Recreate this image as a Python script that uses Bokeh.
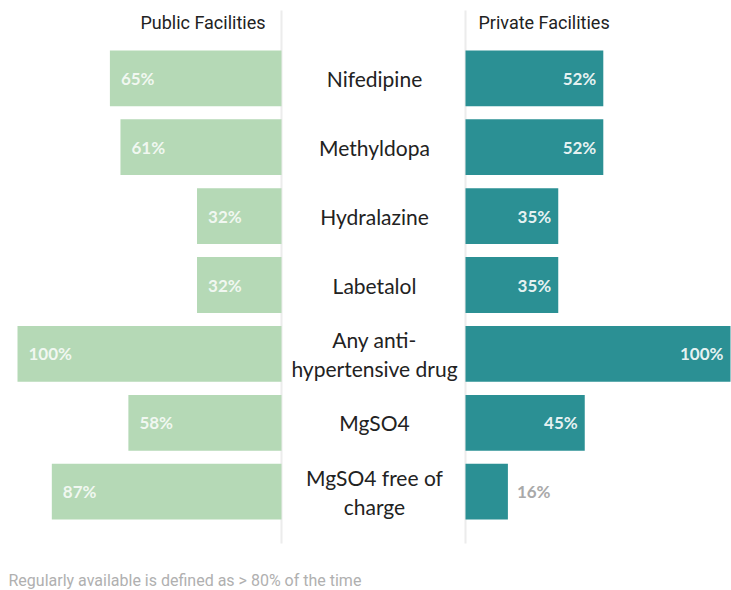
from bokeh.plotting import figure
from bokeh.models import Range1d, ColumnDataSource, Label
from bokeh.core.properties import value
from bokeh.embed import file_html
from bokeh.resources import INLINE

# ---- data ----
categories = ["Nifedipine", "Methyldopa", "Hydralazine", "Labetalol",
              "Any anti-\nhypertensive drug", "MgSO4", "MgSO4 free of\ncharge"]
public_pct = [65, 61, 32, 32, 100, 58, 87]
private_pct = [52, 52, 35, 35, 100, 45, 16]
panel_titles = ["Public Facilities", "Private Facilities"]
footnote = "Regularly available is defined as > 80% of the time"

# ---- style ----
W, H = 731, 590
GREEN = "#b5d9b6"
TEAL = "#2b9094"
ROW = 68.9          # px per row
FIRST = 77.8        # px centre of first row
LEFT0, LEFT_K = 281, 2.64    # px of 0% and px per % (left panel, leftwards)
RIGHT0, RIGHT_K = 465, 2.65  # px of 0% and px per % (right panel)
CENTER_X = 374

y_bot = (H - FIRST) / ROW
y_top = -FIRST / ROW

p = figure(width=W, height=H, output_backend="svg", toolbar_location=None,
           x_range=Range1d(0, W), y_range=Range1d(y_bot, y_top),
           min_border=0, min_border_left=0, min_border_right=0,
           min_border_top=0, min_border_bottom=0)
p.axis.visible = False
p.grid.visible = False
p.outline_line_color = None
p.background_fill_color = "white"
p.border_fill_color = "white"

# extra ranges: left panel grows leftwards from LEFT0, right panel rightwards from RIGHT0
ls = LEFT0 / LEFT_K
p.extra_x_ranges = {
    "left": Range1d(ls, ls - W / LEFT_K),
    "right": Range1d(-RIGHT0 / RIGHT_K, -RIGHT0 / RIGHT_K + W / RIGHT_K),
}

idx = list(range(len(categories)))

# vertical separators
sep_top = y_top + 10 / ROW
sep_bot = y_top + 543 / ROW
p.segment(x0=[0], y0=[sep_top], x1=[0], y1=[sep_bot], x_range_name="left",
          line_color="#ececec", line_width=2)
p.segment(x0=[0], y0=[sep_top], x1=[0], y1=[sep_bot], x_range_name="right",
          line_color="#ececec", line_width=2)

# bars
p.hbar(y=idx, left=0, right=public_pct, height=0.81, x_range_name="left",
       fill_color=GREEN, line_color=None)
p.hbar(y=idx, left=0, right=private_pct, height=0.81, x_range_name="right",
       fill_color=TEAL, line_color=None)

# value labels
pub_src = ColumnDataSource(dict(x=public_pct, y=idx,
                                t=[f"{v}%" for v in public_pct]))
p.text(x="x", y="y", text="t", source=pub_src, x_range_name="left",
       x_offset=11, text_align="left", text_baseline="middle",
       text_font=value("Lato"), text_font_size="17px", text_font_style="bold",
       text_color="white", text_alpha=0.82)

inside = [v >= 20 for v in private_pct]
priv_src = ColumnDataSource(dict(
    x=private_pct, y=idx, t=[f"{v}%" for v in private_pct],
    off=[-7 if ins else 9 for ins in inside],
    al=["right" if ins else "left" for ins in inside],
    col=["white" if ins else "#a9a9a9" for ins in inside],
    a=[0.9 if ins else 1.0 for ins in inside],
))
p.text(x="x", y="y", text="t", source=priv_src, x_range_name="right",
       x_offset="off", text_align="al", text_baseline="middle",
       text_font=value("Lato"), text_font_size="17px", text_font_style="bold",
       text_color="col", text_alpha="a")

# category labels
p.text(x=[CENTER_X] * len(idx), y=idx, text=categories,
       text_align="center", text_baseline="middle",
       text_font=value("Lato"), text_font_size="21px",
       text_color="#222222", text_line_height=1.15)

# panel titles
p.add_layout(Label(x=265, y=H - 22, x_units="screen", y_units="screen",
                   text=panel_titles[0], text_align="right", text_baseline="middle",
                   text_font="Roboto", text_font_size="18px", text_color="#222222"))
p.add_layout(Label(x=478, y=H - 22, x_units="screen", y_units="screen",
                   text=panel_titles[1], text_align="left", text_baseline="middle",
                   text_font="Roboto", text_font_size="18px", text_color="#222222"))

# footnote
p.add_layout(Label(x=8, y=H - 580, x_units="screen", y_units="screen",
                   text=footnote, text_align="left", text_baseline="middle",
                   text_font="Roboto", text_font_size="16px", text_color="#b0b0b0"))

open("out.html", "w").write(file_html(p, INLINE))
